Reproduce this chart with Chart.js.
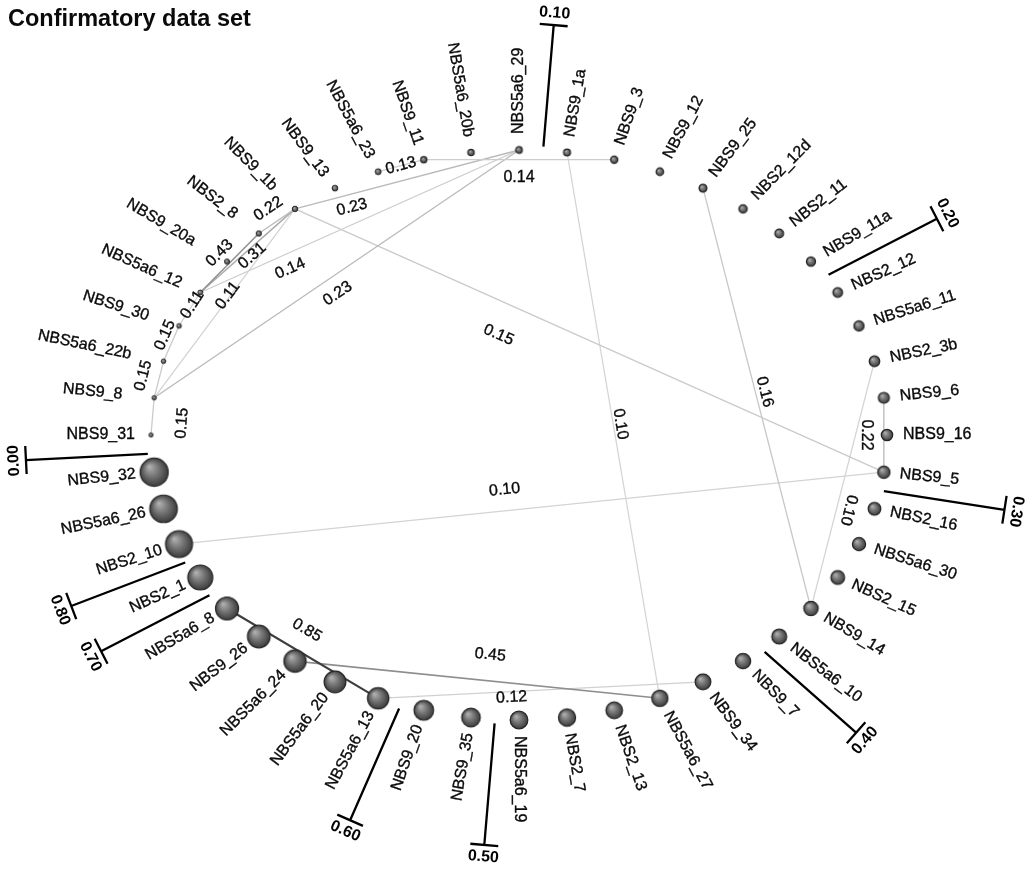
<!DOCTYPE html>
<html>
<head>
<meta charset="utf-8">
<title>Confirmatory data set</title>
<script src="https://cdn.jsdelivr.net/npm/chart.js@4.4.1/dist/chart.umd.min.js"></script>
<style>
  html, body { margin: 0; padding: 0; background: #ffffff; }
  canvas { display: block; }
</style>
</head>
<body>
<canvas id="net" width="1025" height="869"></canvas>
<script>
// ---- data -------------------------------------------------------------
const chartTitle = 'Confirmatory data set';

// nodes, listed clockwise round the ring in increasing value
const nodeNames = [
  'NBS9_31', 'NBS9_8', 'NBS5a6_22b', 'NBS9_30', 'NBS5a6_12', 'NBS9_20a', 'NBS2_8', 'NBS9_1b',
  'NBS9_13', 'NBS5a6_23', 'NBS9_11', 'NBS5a6_20b', 'NBS5a6_29', 'NBS9_1a', 'NBS9_3', 'NBS9_12',
  'NBS9_25', 'NBS2_12d', 'NBS2_11', 'NBS9_11a', 'NBS2_12', 'NBS5a6_11', 'NBS2_3b', 'NBS9_6',
  'NBS9_16', 'NBS9_5', 'NBS2_16', 'NBS5a6_30', 'NBS2_15', 'NBS9_14', 'NBS5a6_10', 'NBS9_7',
  'NBS9_34', 'NBS5a6_27', 'NBS2_13', 'NBS2_7', 'NBS5a6_19', 'NBS9_35', 'NBS9_20', 'NBS5a6_13',
  'NBS5a6_20', 'NBS5a6_24', 'NBS9_26', 'NBS5a6_8', 'NBS2_1', 'NBS2_10', 'NBS5a6_26', 'NBS9_32'
];
const nodeValues = [
  0.005, 0.012, 0.018, 0.025, 0.032, 0.040, 0.048, 0.055,
  0.063, 0.070, 0.078, 0.086, 0.094, 0.105, 0.115, 0.128,
  0.140, 0.155, 0.170, 0.185, 0.205, 0.220, 0.235, 0.250,
  0.265, 0.295, 0.310, 0.330, 0.350, 0.370, 0.390, 0.405,
  0.420, 0.435, 0.450, 0.470, 0.490, 0.520, 0.560, 0.620,
  0.635, 0.650, 0.665, 0.680, 0.750, 0.820, 0.840, 0.860
];

// edges: source, target, weight
const edgeFrom = [
  'NBS5a6_23', 'NBS9_11', 'NBS9_1b', 'NBS5a6_12', 'NBS5a6_12', 'NBS9_30', 'NBS9_8', 'NBS5a6_22b',
  'NBS9_8', 'NBS9_31', 'NBS9_1b', 'NBS9_8', 'NBS5a6_12', 'NBS9_1b', 'NBS9_1a', 'NBS9_25',
  'NBS9_6', 'NBS2_3b', 'NBS2_10', 'NBS5a6_8', 'NBS5a6_24', 'NBS5a6_13'
];
const edgeTo = [
  'NBS9_11', 'NBS9_3', 'NBS2_8', 'NBS2_8', 'NBS9_1b', 'NBS5a6_12', 'NBS9_1b', 'NBS9_30',
  'NBS5a6_22b', 'NBS9_8', 'NBS5a6_29', 'NBS5a6_29', 'NBS5a6_29', 'NBS9_5', 'NBS5a6_27', 'NBS9_14',
  'NBS9_5', 'NBS9_14', 'NBS9_5', 'NBS5a6_13', 'NBS5a6_27', 'NBS9_34'
];
const edgeWeights = [
  0.13, 0.14, 0.22, 0.43, 0.31, 0.11, 0.11, 0.15,
  0.15, 0.15, 0.23, 0.23, 0.14, 0.15, 0.10, 0.16,
  0.22, 0.10, 0.10, 0.85, 0.45, 0.12
];

// value marks drawn round the ring
const tickValues = [0.00, 0.10, 0.20, 0.30, 0.40, 0.50, 0.60, 0.70, 0.80];

// ---- layout -----------------------------------------------------------
const W = 1025, H = 869;
const CX = 519, CY = 435;     // ring centre in pixels
const RX = 368, RY = 285;     // ring radii in pixels
const FONT = '"Liberation Sans", Arial, Helvetica, sans-serif';

// where each edge label sits: fraction along the edge, sideways shift (px)
const edgeLabelAt = [
  [0.50, 0], [0.50, 18], [0.50, 15], [0.50, -14], [0.50, 7], [0.63, 0], [0.535, -2], [0.635, -9],
  [0.50, -16], [0.385, 30], [0.24, 13], [0.477, 17], [0.263, 15], [0.368, 32], [0.50, -7], [0.49, -9],
  [0.50, 17.5], [0.59, -12], [0.465, -21], [0.454, -22], [0.528, -26], [0.41, 6]
];

// extra room for names crowded by edge labels (px)
const nameClearance = {
  'NBS9_8': 16, 'NBS5a6_22b': 17, 'NBS9_30': 16, 'NBS5a6_12': 5,
  'NBS9_20a': 22, 'NBS2_8': 13, 'NBS9_1b': 13
};

const N = nodeNames.length;
const STEP = 360 / N;
const angleOf = pos => (180 - STEP * pos) * Math.PI / 180;
const ringPoint = pos => ({ x: Math.cos(angleOf(pos)), y: Math.sin(angleOf(pos)) });
const nodeIndex = name => nodeNames.indexOf(name);
const nodeRadius = v => 2 + 14 * v;

// shaded ball used as the node marker
const spriteCache = {};
function ballSprite(r) {
  const key = r.toFixed(2);
  if (spriteCache[key]) return spriteCache[key];
  const size = Math.ceil(2 * r + 4);
  const cv = document.createElement('canvas');
  cv.width = size; cv.height = size;
  const g = cv.getContext('2d');
  const c = size / 2;
  const grad = g.createRadialGradient(c - r * 0.35, c - r * 0.4, r * 0.05, c, c, r * 1.05);
  grad.addColorStop(0, '#b0b0b0');
  grad.addColorStop(0.45, '#777777');
  grad.addColorStop(1, '#383838');
  g.beginPath();
  g.arc(c, c, r, 0, Math.PI * 2);
  g.fillStyle = grad;
  g.fill();
  g.lineWidth = r < 3 ? 1 : 1.2;
  g.strokeStyle = '#262626';
  g.stroke();
  spriteCache[key] = cv;
  return cv;
}

const edgeGrey = w => {
  const g = Math.round(232 - 200 * w);
  return `rgb(${g},${g},${g})`;
};

const edgeDatasets = edgeFrom.map((src, k) => ({
  label: src + ' - ' + edgeTo[k],
  data: [ringPoint(nodeIndex(src)), ringPoint(nodeIndex(edgeTo[k]))],
  showLine: true,
  borderColor: edgeGrey(edgeWeights[k]),
  borderWidth: 1.1 + 1.2 * edgeWeights[k],
  pointRadius: 0,
  order: 2
}));

const nodeDataset = {
  label: 'nodes',
  data: nodeNames.map((_, j) => ringPoint(j)),
  pointStyle: ctx => ballSprite(nodeRadius(nodeValues[ctx.dataIndex])),
  pointRadius: ctx => nodeRadius(nodeValues[ctx.dataIndex]),
  order: 1
};

function inkText(ctx, text, x, y) {
  ctx.fillText(text, x, y);
  ctx.strokeText(text, x, y);
}

// ---- text and value marks --------------------------------------------
const overlay = {
  id: 'overlay',
  afterDatasetsDraw(chart) {
    const { ctx } = chart;
    const sx = chart.scales.x, sy = chart.scales.y;
    const px = p => ({ x: sx.getPixelForValue(p.x), y: sy.getPixelForValue(p.y) });
    const c = px({ x: 0, y: 0 });

    // edge weights
    ctx.save();
    ctx.font = '16px ' + FONT;
    ctx.fillStyle = '#0a0a0a';
    ctx.strokeStyle = '#0a0a0a';
    ctx.lineWidth = 0.35;
    ctx.textAlign = 'center';
    ctx.textBaseline = 'middle';
    edgeFrom.forEach((src, k) => {
      const p1 = px(ringPoint(nodeIndex(src)));
      const p2 = px(ringPoint(nodeIndex(edgeTo[k])));
      const dx = p2.x - p1.x, dy = p2.y - p1.y, L = Math.hypot(dx, dy);
      const nx = -dy / L, ny = dx / L;
      const [t, off] = edgeLabelAt[k];
      const lx = p1.x + dx * t + nx * off;
      const ly = p1.y + dy * t + ny * off;
      let rot = Math.atan2(dy, dx);
      if (rot > 105 * Math.PI / 180) rot -= Math.PI;
      if (rot < -105 * Math.PI / 180) rot += Math.PI;
      ctx.save();
      ctx.translate(lx, ly);
      ctx.rotate(rot);
      inkText(ctx, edgeWeights[k].toFixed(2), 0, 0);
      ctx.restore();
    });
    ctx.restore();

    // node names, set radially
    ctx.save();
    ctx.font = '16px ' + FONT;
    ctx.fillStyle = '#0a0a0a';
    ctx.strokeStyle = '#0a0a0a';
    ctx.lineWidth = 0.35;
    ctx.textBaseline = 'middle';
    nodeNames.forEach((name, j) => {
      const p = px(ringPoint(j));
      let vx = p.x - c.x, vy = p.y - c.y;
      const L = Math.hypot(vx, vy);
      vx /= L; vy /= L;
      const r = nodeRadius(nodeValues[j]);
      const d = Math.max(16, r + 4.5) + (nameClearance[name] || 0);
      const rot = Math.atan2(vy, vx);
      const flip = Math.cos(angleOf(j)) < -1e-6;
      ctx.save();
      ctx.translate(p.x + vx * d, p.y + vy * d);
      if (flip) { ctx.rotate(rot + Math.PI); ctx.textAlign = 'right'; }
      else { ctx.rotate(rot); ctx.textAlign = 'left'; }
      inkText(ctx, name, 0, 0);
      ctx.restore();
    });
    ctx.restore();

    // value marks: radial bars where the ring passes each value
    ctx.save();
    ctx.strokeStyle = '#000';
    ctx.fillStyle = '#000';
    ctx.lineWidth = 2.3;
    ctx.lineCap = 'butt';
    ctx.font = 'bold 16px ' + FONT;
    ctx.textAlign = 'center';
    ctx.textBaseline = 'middle';
    tickValues.forEach(tv => {
      const j = nodeValues.findIndex(v => v >= tv);
      const p = px(ringPoint(j - 0.5));
      let vx = p.x - c.x, vy = p.y - c.y;
      const L = Math.hypot(vx, vy);
      vx /= L; vy /= L;
      const start = 4, len = 122, cap = 14;
      const bx = p.x + vx * start, by = p.y + vy * start;
      const ex = bx + vx * len, ey = by + vy * len;
      ctx.beginPath();
      ctx.moveTo(bx, by);
      ctx.lineTo(ex, ey);
      ctx.moveTo(ex - vy * cap, ey + vx * cap);
      ctx.lineTo(ex + vy * cap, ey - vx * cap);
      ctx.stroke();
      let rot = Math.atan2(vy, vx) + Math.PI / 2;
      while (rot > Math.PI) rot -= 2 * Math.PI;
      while (rot <= -Math.PI) rot += 2 * Math.PI;
      if (rot > 105 * Math.PI / 180) rot -= Math.PI;
      if (rot < -105 * Math.PI / 180) rot += Math.PI;
      ctx.save();
      ctx.translate(ex + vx * 12, ey + vy * 12);
      ctx.rotate(rot);
      ctx.fillText(tv.toFixed(2), 0, 0);
      ctx.restore();
    });
    ctx.restore();

    // heading
    ctx.save();
    ctx.font = 'bold 23.5px ' + FONT;
    ctx.fillStyle = '#0a0a0a';
    ctx.textAlign = 'left';
    ctx.textBaseline = 'alphabetic';
    ctx.fillText(chartTitle, 8, 26);
    ctx.restore();
  }
};

new Chart(document.getElementById('net'), {
  type: 'scatter',
  data: { datasets: [...edgeDatasets, nodeDataset] },
  options: {
    responsive: false,
    devicePixelRatio: 1,
    animation: false,
    events: [],
    layout: { padding: 0, autoPadding: false },
    plugins: { legend: { display: false }, tooltip: { enabled: false }, title: { display: false } },
    scales: {
      x: { type: 'linear', display: false, bounds: 'data', min: -CX / RX, max: (W - CX) / RX },
      y: { type: 'linear', display: false, bounds: 'data', min: -(H - CY) / RY, max: CY / RY }
    }
  },
  plugins: [overlay]
});
</script>
</body>
</html>
